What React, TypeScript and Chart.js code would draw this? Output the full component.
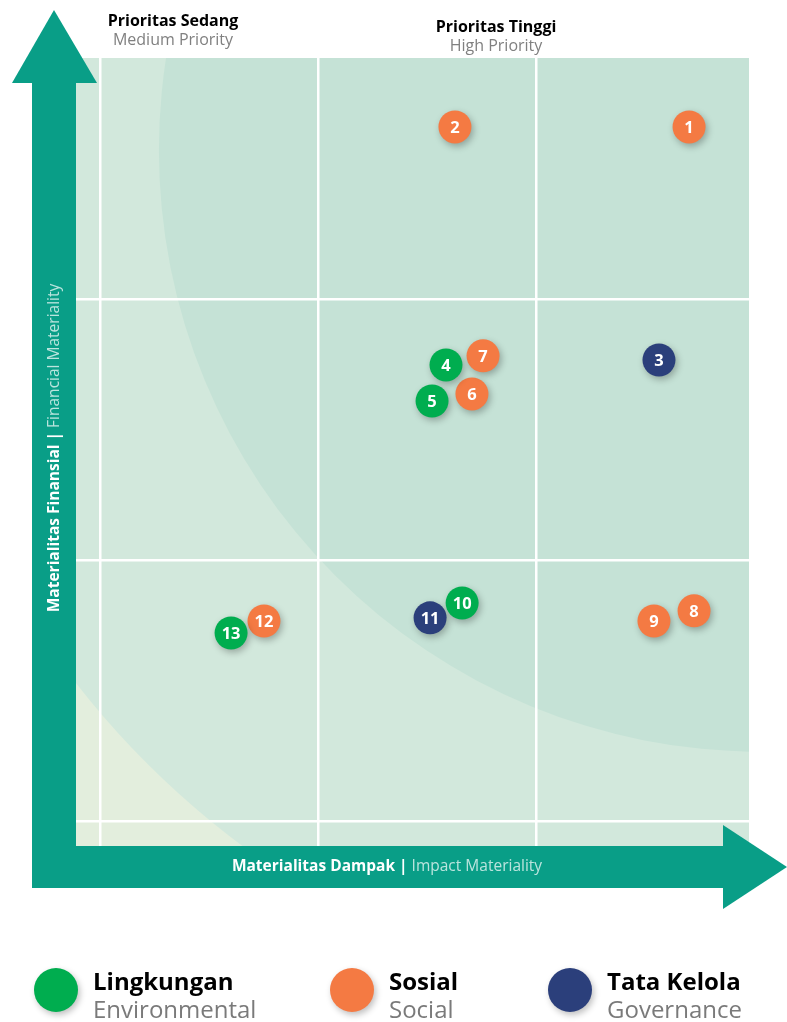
import React, { useEffect, useRef } from 'react';
import { Chart, registerables } from 'chart.js';
Chart.register(...registerables);

const W = 787;
const H = 1022;

// Data (x = Impact Materiality, y = Financial Materiality; grid lines at 0,1,2)
const envIds = ['4', '5', '10', '13'];
const envX = [1.587, 1.523, 1.661, 0.601];
const envY = [1.747, 1.609, 0.835, 0.72];

const socIds = ['1', '2', '6', '7', '8', '9', '12'];
const socX = [2.702, 1.628, 1.706, 1.757, 2.725, 2.541, 0.752];
const socY = [2.659, 2.659, 1.636, 1.782, 0.805, 0.766, 0.766];

const govIds = ['3', '11'];
const govX = [2.564, 1.514];
const govY = [1.766, 0.778];

const gridTicks = [0, 1, 2];
const xRange = [-0.115, 2.977];
const yRange = [-0.096, 2.923];

const seriesNames = ['Lingkungan', 'Sosial', 'Tata Kelola'];
const seriesNamesEn = ['Environmental', 'Social', 'Governance'];
const seriesColors = ['#00ad4f', '#f47a43', '#2b3f7b'];

const priorityLabels = ['Prioritas Sedang', 'Prioritas Tinggi'];
const priorityLabelsEn = ['Medium Priority', 'High Priority'];

const xTitle = ['Materialitas Dampak |', 'Impact Materiality'];
const yTitle = ['Materialitas Finansial |', 'Financial Materiality'];

const ARROW = '#099e87';
const FONT = '"Open Sans", sans-serif';

const toPts = (xs: number[], ys: number[], ids: string[]) =>
  xs.map((x, i) => ({ x, y: ys[i], id: ids[i] }));

const bgPlugin = {
  id: 'bg',
  beforeDraw(chart: any) {
    const { ctx, chartArea: a, scales } = chart;
    const xs = scales.x;
    const ys = scales.y;
    ctx.save();
    ctx.beginPath();
    ctx.rect(a.left, a.top, a.right - a.left, a.bottom - a.top);
    ctx.clip();
    ctx.fillStyle = '#e3eedd';
    ctx.fillRect(a.left, a.top, a.right - a.left, a.bottom - a.top);
    const cx = xs.getPixelForValue(3.03);
    const cy = ys.getPixelForValue(2.57);
    const unit = xs.getPixelForValue(1) - xs.getPixelForValue(0);
    ctx.fillStyle = '#d2e8dc';
    ctx.beginPath();
    ctx.arc(cx, cy, 3.98 * unit, 0, Math.PI * 2);
    ctx.fill();
    ctx.fillStyle = '#c5e2d6';
    ctx.beginPath();
    ctx.arc(cx, cy, 2.76 * unit, 0, Math.PI * 2);
    ctx.fill();
    ctx.restore();
  },
};

const shadowPlugin = {
  id: 'shadow',
  beforeDatasetDraw(chart: any) {
    const ctx = chart.ctx;
    ctx.save();
    ctx.shadowColor = 'rgba(0,0,0,0.28)';
    ctx.shadowBlur = 7;
    ctx.shadowOffsetX = 2;
    ctx.shadowOffsetY = 3;
  },
  afterDatasetDraw(chart: any) {
    chart.ctx.restore();
  },
};

function drawTwoPart(ctx: any, parts: string[], cx: number, cy: number, size: number) {
  ctx.font = `bold ${size}px ${FONT}`;
  const w1 = ctx.measureText(parts[0]).width;
  ctx.font = `${size}px ${FONT}`;
  const sp = ctx.measureText(' ').width;
  const w2 = ctx.measureText(parts[1]).width;
  const total = w1 + sp + w2;
  let x = cx - total / 2;
  ctx.textAlign = 'left';
  ctx.textBaseline = 'middle';
  ctx.font = `bold ${size}px ${FONT}`;
  ctx.fillStyle = '#ffffff';
  ctx.fillText(parts[0], x, cy);
  x += w1 + sp;
  ctx.font = `${size}px ${FONT}`;
  ctx.fillStyle = 'rgba(255,255,255,0.72)';
  ctx.fillText(parts[1], x, cy);
}

const overlayPlugin = {
  id: 'overlay',
  afterDatasetsDraw(chart: any) {
    const { ctx } = chart;
    // point labels
    ctx.save();
    ctx.fillStyle = '#ffffff';
    ctx.font = `bold 16.5px ${FONT}`;
    ctx.textAlign = 'center';
    ctx.textBaseline = 'middle';
    chart.data.datasets.forEach((ds: any, di: number) => {
      const meta = chart.getDatasetMeta(di);
      meta.data.forEach((el: any, i: number) => {
        ctx.fillText(ds.data[i].id, el.x, el.y + 1);
      });
    });
    ctx.restore();

    // arrows
    ctx.save();
    ctx.fillStyle = ARROW;
    // vertical arrow
    ctx.fillRect(32, 83, 44, 888 - 83);
    ctx.beginPath();
    ctx.moveTo(12, 83);
    ctx.lineTo(97, 83);
    ctx.lineTo(54, 10);
    ctx.closePath();
    ctx.fill();
    // horizontal arrow
    ctx.fillRect(32, 846, 723 - 32, 42);
    ctx.beginPath();
    ctx.moveTo(723, 825);
    ctx.lineTo(723, 909);
    ctx.lineTo(787, 867);
    ctx.closePath();
    ctx.fill();

    // axis titles
    drawTwoPart(ctx, xTitle, 387, 867, 15.5);
    ctx.save();
    ctx.translate(55, 448);
    ctx.rotate(-Math.PI / 2);
    drawTwoPart(ctx, yTitle, 0, 0, 15.5);
    ctx.restore();

    // priority labels
    const pX = [173, 496];
    const pY = [21, 27];
    ctx.textAlign = 'center';
    ctx.textBaseline = 'middle';
    priorityLabels.forEach((t, i) => {
      ctx.font = `bold 16px ${FONT}`;
      ctx.fillStyle = '#000000';
      ctx.fillText(t, pX[i], pY[i]);
      ctx.font = `16px ${FONT}`;
      ctx.fillStyle = '#808080';
      ctx.fillText(priorityLabelsEn[i], pX[i], pY[i] + 19);
    });

    // legend
    const lX = [56, 352, 570];
    seriesNames.forEach((n, i) => {
      ctx.save();
      ctx.shadowColor = 'rgba(0,0,0,0.25)';
      ctx.shadowBlur = 6;
      ctx.shadowOffsetX = 2;
      ctx.shadowOffsetY = 3;
      ctx.fillStyle = seriesColors[i];
      ctx.beginPath();
      ctx.arc(lX[i], 990, 22, 0, Math.PI * 2);
      ctx.fill();
      ctx.restore();
      ctx.textAlign = 'left';
      ctx.textBaseline = 'alphabetic';
      ctx.font = `bold 24px ${FONT}`;
      ctx.fillStyle = '#000000';
      ctx.fillText(n, lX[i] + 37, 990);
      ctx.font = `24px ${FONT}`;
      ctx.fillStyle = '#7a7a7a';
      ctx.fillText(seriesNamesEn[i], lX[i] + 37, 1018);
    });
    ctx.restore();
  },
};

export default function App() {
  const ref = useRef<HTMLCanvasElement | null>(null);
  useEffect(() => {
    if (!ref.current) return;
    const mk = (label: string, data: any[], color: string) => ({
      label,
      data,
      backgroundColor: color,
      borderColor: color,
      borderWidth: 0,
      pointRadius: 16.5,
      pointHoverRadius: 16.5,
      clip: false,
    });
    const chart = new Chart(ref.current, {
      type: 'scatter',
      data: {
        datasets: [
          mk(seriesNames[0], toPts(envX, envY, envIds), seriesColors[0]),
          mk(seriesNames[1], toPts(socX, socY, socIds), seriesColors[1]),
          mk(seriesNames[2], toPts(govX, govY, govIds), seriesColors[2]),
        ],
      },
      options: {
        animation: false,
        responsive: false,
        events: [],
        layout: { padding: { left: 75, right: W - 749, top: 58, bottom: H - 846 } },
        plugins: { legend: { display: false }, tooltip: { enabled: false } },
        scales: {
          x: {
            type: 'linear',
            min: xRange[0],
            max: xRange[1],
            afterBuildTicks: (s: any) => {
              s.ticks = gridTicks.map((v) => ({ value: v }));
            },
            ticks: { display: false },
            border: { display: false },
            grid: { color: '#ffffff', lineWidth: 2.5, drawTicks: false },
          },
          y: {
            type: 'linear',
            min: yRange[0],
            max: yRange[1],
            afterBuildTicks: (s: any) => {
              s.ticks = gridTicks.map((v) => ({ value: v }));
            },
            ticks: { display: false },
            border: { display: false },
            grid: { color: '#ffffff', lineWidth: 2.5, drawTicks: false },
          },
        },
      } as any,
      plugins: [bgPlugin, shadowPlugin, overlayPlugin],
    });
    return () => chart.destroy();
  }, []);
  return (
    <div style={{ position: 'absolute', left: 0, top: 0, width: W, height: H, background: '#ffffff' }}>
      <canvas ref={ref} width={W} height={H} style={{ display: 'block' }} />
    </div>
  );
}
